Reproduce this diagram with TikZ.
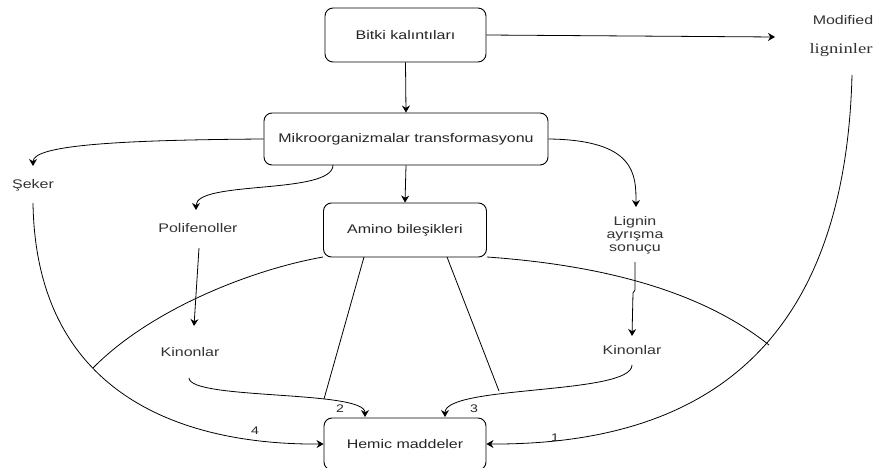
\documentclass[tikz,border=0pt]{standalone}
\usepackage{fontspec}
\setmainfont{Liberation Sans}[FakeStretch=1.28]
\newfontfamily\serifx{Liberation Serif}[FakeStretch=1.28]
\usetikzlibrary{arrows.meta}
\begin{document}
\begin{tikzpicture}[x=1pt,y=-1pt,
  box/.style={draw, rounded corners=8pt, line width=0.9pt, align=center, inner sep=0pt, text=black!85, font=\fontsize{12.5}{15}\selectfont},
  lbl/.style={align=center, inner sep=0pt, text=black!80, font=\fontsize{12.5}{13.2}\selectfont},
  num/.style={inner sep=0pt, text=black!85, font=\fontsize{11}{12}\selectfont},
  conn/.style={line width=0.8pt},
  arr/.style={conn, -{Stealth[length=7pt,width=8pt]}}]
\useasboundingbox (0,0) rectangle (878,468);
\clip (0,0) rectangle (878,468);
\fill[white] (0,0) rectangle (878,468);

% boxes
\node[box, minimum width=161pt, minimum height=54pt] (bitki) at (405.5,35) {Bitki kalıntıları};
\node[box, minimum width=284pt, minimum height=52pt] (mikro) at (406,139) {Mikroorganizmalar transformasyonu};
\node[box, minimum width=163pt, minimum height=54pt] (amino) at (405,230) {Amino bileşikleri};
\node[box, minimum width=162pt, minimum height=52pt] (hemic) at (405,444) {Hemic maddeler};

% free text
\node[lbl] (modified) at (843,20) {Modified};
\node[lbl, font=\serifx\fontsize{14.5}{16}\selectfont] (ligninler) at (841,50) {ligninler};
\node[lbl] (seker) at (33,185) {Şeker};
\node[lbl] (polif) at (198,228) {Polifenoller};
\node[lbl] (lignin) at (635,235) {Lignin\\ayrışma\\sonuçu};
\node[lbl] (kinL) at (190,352) {Kinonlar};
\node[lbl] (kinR) at (632,350) {Kinonlar};

% coordinates
\coordinate (modTip) at (775,37);
\coordinate (sekTip) at (33,166);
\coordinate (sekStart) at (33,203);
\coordinate (polTip) at (196,210);
\coordinate (mikB) at (333,165);
\coordinate (ligTip) at (636,207);
\coordinate (polStart) at (199,248);
\coordinate (kinLTip) at (194,326);
\coordinate (ligStart) at (635,262);
\coordinate (kinRTip) at (632,336);
\coordinate (kinLStart) at (189,378);
\coordinate (kinRStart) at (632,365);
\coordinate (hemT2) at (365,417);
\coordinate (hemT3) at (445,417);
\coordinate (modStart) at (852,75);
\coordinate (aA) at (323,257);
\coordinate (aB) at (364,257);
\coordinate (aC) at (447,257);
\coordinate (aD) at (487,257);
\coordinate (eA) at (93,368);
\coordinate (eB) at (324,399);
\coordinate (eC) at (499,391);
\coordinate (eD) at (769,345);

% straight arrows
\draw[arr] (bitki.east) -- (modTip);
\draw[arr] (bitki.south) -- (mikro.north);
\draw[arr] (mikro.south) -- (amino.north);

% curved arrows from Mikro
\draw[arr] (mikro.west) .. controls (120,140) and (33,145) .. (sekTip);
\draw[arr] (mikB) .. controls (333,195) and (196,180) .. (polTip);
\draw[arr] (mikro.east) .. controls (636,140) and (636,175) .. (ligTip);

% to Kinonlar
\draw[arr] (polStart) -- (kinLTip);
\draw[arr] (ligStart) -- (635,290) -- (633,293) -- (kinRTip);

% to Hemic
\draw[arr] (sekStart) .. controls (36,400) and (190,445) .. (hemic.west);
\draw[arr] (modStart) .. controls (845,350) and (700,445) .. (hemic.east);
\draw[arr] (kinLStart) .. controls (190,400) and (365,390) .. (hemT2);
\draw[arr] (kinRStart) .. controls (632,395) and (445,385) .. (hemT3);

% lines from Amino
\draw[conn] (aA) .. controls (250,270) and (150,310) .. (eA);
\draw[conn] (aB) -- (eB);
\draw[conn] (aC) -- (eC);
\draw[conn] (aD) .. controls (600,265) and (700,290) .. (eD);

% numbers
\node[num] (n4) at (255,431) {4};
\node[num] (n2) at (340,409) {2};
\node[num] (n3) at (474,409) {3};
\node[num] (n1) at (555,438) {1};
\end{tikzpicture}
\end{document}
